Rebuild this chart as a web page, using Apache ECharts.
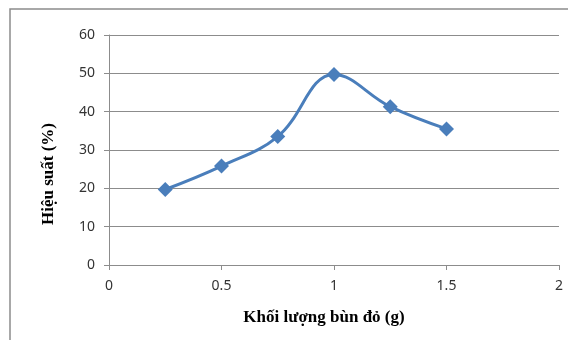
<!DOCTYPE html>
<html>
<head>
<meta charset="utf-8">
<style>
  html, body { margin: 0; padding: 0; background: #ffffff; }
  #chart { width: 568px; height: 340px; }
</style>
<script src="https://cdn.jsdelivr.net/npm/echarts@6/dist/echarts.min.js"></script>
</head>
<body>
<div id="chart"></div>
<script>
// Red mud mass (g) and the corresponding efficiency (%)
const massGrams = [0.25, 0.5, 0.75, 1.0, 1.25, 1.5];
const efficiency = [19.7, 25.8, 33.5, 49.7, 41.3, 35.5];

const xAxisTitle = 'Khối lượng bùn đỏ (g)';
const yAxisTitle = 'Hiệu suất (%)';

const lineColor = '#4a7ebb';
const gridColor = '#8c8c8c';
const labelFont = 'Noto Sans';
const titleFont = 'Liberation Serif';

const chart = echarts.init(document.getElementById('chart'), null, { renderer: 'canvas' });

chart.setOption({
  animation: false,
  backgroundColor: '#ffffff',
  graphic: [
    {
      type: 'rect',
      left: 7.5,
      top: 6.5,
      shape: { x: 0, y: 0, width: 600, height: 400 },
      style: { fill: 'none', stroke: '#8c8c8c', lineWidth: 1.5 },
      silent: true
    }
  ],
  grid: { left: 109, right: 9, top: 35, bottom: 75, containLabel: false },
  xAxis: {
    type: 'value',
    min: 0,
    max: 2,
    interval: 0.5,
    name: xAxisTitle,
    nameLocation: 'middle',
    nameGap: 44,
    nameTextStyle: {
      fontFamily: titleFont, fontWeight: 'bold', fontSize: 17, color: '#000000',
      padding: [0, 20, 0, 0]
    },
    axisLine: { show: true, lineStyle: { color: gridColor, width: 1 } },
    axisTick: { show: true, inside: false, length: 5, lineStyle: { color: gridColor } },
    axisLabel: {
      margin: 14, fontFamily: labelFont, fontSize: 14, color: '#333333',
      formatter: v => String(v)
    },
    splitLine: { show: false }
  },
  yAxis: {
    type: 'value',
    min: 0,
    max: 60,
    interval: 10,
    name: yAxisTitle,
    nameLocation: 'middle',
    nameGap: 52,
    nameRotate: 90,
    nameTextStyle: {
      fontFamily: titleFont, fontWeight: 'bold', fontSize: 17, color: '#000000',
      padding: [0, 48, 0, 0]
    },
    axisLine: { show: true, lineStyle: { color: gridColor, width: 1 } },
    axisTick: { show: true, inside: false, length: 5, lineStyle: { color: gridColor } },
    axisLabel: { margin: 14, fontFamily: labelFont, fontSize: 14, color: '#333333' },
    splitLine: { show: true, lineStyle: { color: gridColor, width: 1 } }
  },
  series: [
    {
      type: 'line',
      data: massGrams.map((m, i) => [m, efficiency[i]]),
      smooth: 0.4,
      symbol: 'diamond',
      symbolSize: 15,
      lineStyle: { color: lineColor, width: 3 },
      itemStyle: { color: lineColor },
      z: 3
    }
  ]
});
</script>
</body>
</html>
